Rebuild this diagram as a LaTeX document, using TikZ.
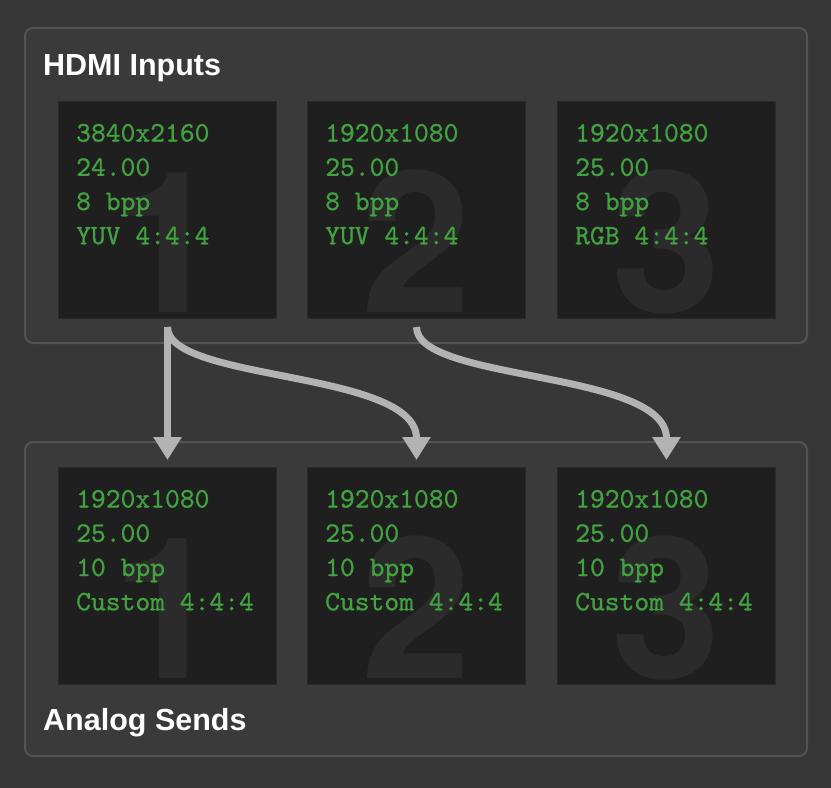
\documentclass[tikz,border=0pt]{standalone}
\usepackage{fontspec}
\setmainfont{Liberation Sans}
\newfontfamily\digitfont{TeX Gyre Heros}
\newfontfamily\infofont{lmmono10-regular.otf}[FakeBold=0.8]
\usetikzlibrary{arrows.meta}
\definecolor{bgc}{HTML}{373737}
\definecolor{groupfill}{HTML}{3A3A3A}
\definecolor{groupline}{HTML}{535353}
\definecolor{cardfill}{HTML}{1F1F1F}
\definecolor{cardline}{HTML}{2A2A2A}
\definecolor{digitc}{HTML}{2B2B2B}
\definecolor{greentext}{HTML}{41A23F}
\definecolor{arrowc}{HTML}{B3B3B3}
\tikzset{
  groupbox/.style={draw=groupline, line width=2pt, fill=groupfill, rounded corners=8pt},
  card/.style={draw=cardline, line width=1pt, fill=cardfill, minimum width=218pt, minimum height=217pt, inner sep=0pt, anchor=north west},
  bigdigit/.style={text=digitc, font=\digitfont\bfseries\fontsize{197}{197}\selectfont, inner sep=0pt, anchor=base},
  info/.style={text=greentext, font=\infofont\fontsize{28.2}{28.2}\selectfont, inner sep=0pt, anchor=base west},
  title/.style={text=white, font=\bfseries\fontsize{30.5}{30.5}\selectfont, inner sep=0pt, anchor=base west},
  flow/.style={draw=arrowc, line width=7pt, -{Triangle[width=27pt,length=23pt]}}
}
\newcommand\cardinfo[5]{%
  \node[info] (#1-l1) at ([xshift=18pt,yshift=-40.5pt]#1.north west) {#2};
  \node[info] (#1-l2) at ([xshift=18pt,yshift=-74.8pt]#1.north west) {#3};
  \node[info] (#1-l3) at ([xshift=18pt,yshift=-109pt]#1.north west) {#4};
  \node[info] (#1-l4) at ([xshift=18pt,yshift=-143.3pt]#1.north west) {#5};
}
\begin{document}
\begin{tikzpicture}[x=1pt,y=-1pt]
\useasboundingbox (0,0) rectangle (831,788);
\fill[bgc] (0,0) rectangle (831,788);
% groups
\draw[groupbox] (25,28) rectangle (807,343);
\draw[groupbox] (25,442) rectangle (807,756);
\node[title] (t1) at (43,75.5) {HDMI Inputs};
\node[title] (t2) at (43,730) {Analog Sends};
% cards
\node[card] (in1) at (58,101) {};
\node[card] (in2) at (307,101) {};
\node[card] (in3) at (557,101) {};
\node[card] (out1) at (58,467) {};
\node[card] (out2) at (307,467) {};
\node[card] (out3) at (557,467) {};
% big digits
\node[bigdigit] (in1-digit) at ([yshift=7pt]in1.south) {1};
\node[bigdigit] (in2-digit) at ([yshift=7pt]in2.south) {2};
\node[bigdigit] (in3-digit) at ([yshift=7pt]in3.south) {3};
\node[bigdigit] (out1-digit) at ([yshift=7pt]out1.south) {1};
\node[bigdigit] (out2-digit) at ([yshift=7pt]out2.south) {2};
\node[bigdigit] (out3-digit) at ([yshift=7pt]out3.south) {3};
% info text
\cardinfo{in1}{3840x2160}{24.00}{8 bpp}{YUV 4:4:4}
\cardinfo{in2}{1920x1080}{25.00}{8 bpp}{YUV 4:4:4}
\cardinfo{in3}{1920x1080}{25.00}{8 bpp}{RGB 4:4:4}
\cardinfo{out1}{1920x1080}{25.00}{10 bpp}{Custom 4:4:4}
\cardinfo{out2}{1920x1080}{25.00}{10 bpp}{Custom 4:4:4}
\cardinfo{out3}{1920x1080}{25.00}{10 bpp}{Custom 4:4:4}
% connectors
\coordinate (a1) at ([yshift=-8pt]in1.south);
\coordinate (a2) at ([yshift=-8pt]in2.south);
\coordinate (b1) at ([yshift=7pt]out1.north);
\coordinate (b2) at ([yshift=7pt]out2.north);
\coordinate (b3) at ([yshift=7pt]out3.north);
\draw[flow] (a1) -- (b1);
\draw[flow] (a1) .. controls +(0,55) and +(0,-90) .. (b2);
\draw[flow] (a2) .. controls +(0,55) and +(0,-90) .. (b3);
\end{tikzpicture}
\end{document}
